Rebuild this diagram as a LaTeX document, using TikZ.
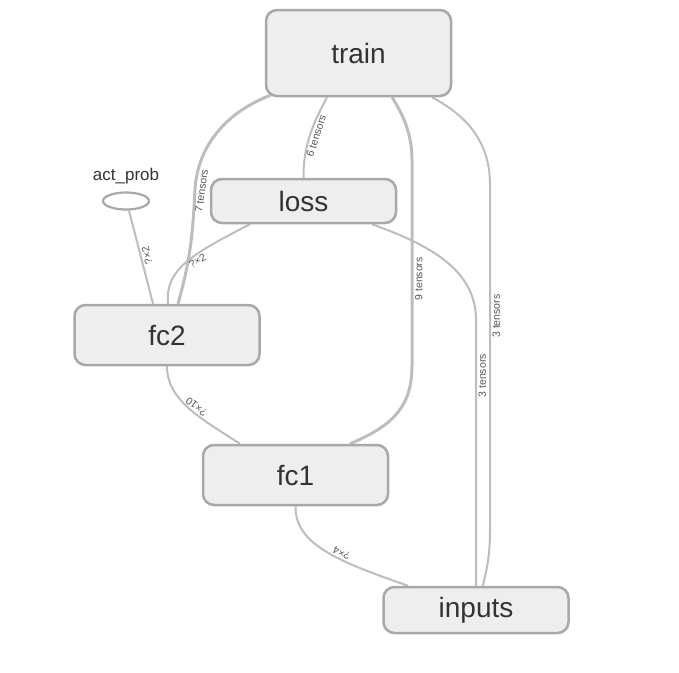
\documentclass[tikz,border=0pt]{standalone}
\usepackage{fontspec}
\setmainfont{Liberation Sans}
\usetikzlibrary{shapes.geometric, calc, backgrounds}
\usepackage{xcolor}
\definecolor{Ink}{HTML}{333333}
\definecolor{Dim}{HTML}{555555}
\definecolor{Frame}{HTML}{A8A8A8}
\definecolor{Panel}{HTML}{EEEEEE}
\definecolor{Wire}{HTML}{BDBDBD}

\begin{document}
\begin{tikzpicture}[
            x=1pt, y=-1pt,
            op/.style={
                rectangle,
                draw=Frame,
                fill=Panel,
                line width=2.5pt,
                rounded corners=11pt,
                minimum width=185pt,
                align=center,
                font=\fontsize{28}{30}\selectfont,
                text=Ink
            },
            outnode/.style={
                ellipse,
                draw=Frame,
                fill=white,
                line width=2.2pt,
                minimum width=46pt,
                minimum height=17pt,
                inner sep=0pt
            },
            link/.style={line width=2pt, color=Wire},
            heavylink/.style={line width=3pt, color=Wire},
            note/.style={font=\fontsize{10.5}{12}\selectfont, text=Dim, anchor=north, inner sep=1.5pt}
        ]
            \useasboundingbox (0,0) rectangle (679,672);

            \node[op, minimum height=86pt] (train) at (358.5,53) {train};
            \node[op, minimum height=44pt] (loss) at (303.5,201) {loss};
            \node[op, minimum height=60pt] (fc2) at (167,335) {fc2};
            \node[op, minimum height=60pt] (fc1) at (295.5,475) {fc1};
            \node[op, minimum height=46pt] (inputs) at (476,610) {inputs};
            \node[outnode] (actprob) at (126,201) {};
            \node[font=\fontsize{17}{20}\selectfont, text=Ink] (actlabel) at (126,176) {act\_prob};

            \begin{scope}[on background layer]
            % Into train
            \draw[link] (loss.north) .. controls (303,140) and (318,115) .. node[pos=0.45, note, rotate=72]{6 tensors} ($(train.south)+(-31.5,0)$);
            \draw[heavylink] ($(fc2.north)+(11,0)$) .. controls (192,255) and (193,225) .. (195,190) node[note, rotate=82]{7 tensors} .. controls (197,150) and (222,114) .. ($(train.south)+(-88,-2)$);
            \draw[heavylink] ($(fc1.north)+(54.5,0)$) .. controls (395,425) and (412,405) .. (412,365) -- node[pos=0.42, note, rotate=90]{9 tensors} (412,160) .. controls (412,130) and (400,110) .. ($(train.south)+(33.5,0)$);
            \draw[link] ($(inputs.north)+(7,0)$) .. controls (486,570) and (490,560) .. (490,530) -- node[pos=0.62, note, rotate=90]{3 tensors} (490,185) .. controls (490,140) and (465,115) .. ($(train.south)+(73.5,0)$);

            % Into loss and act_prob
            \draw[link] (inputs.north) -- node[pos=0.79, note, rotate=90]{3 tensors} (476,320) .. controls (476,270) and (430,245) .. ($(loss.south)+(68.5,0)$);
            \draw[link] ($(fc2.north)+(1,0)$) .. controls (165,270) and (190,255) .. node[pos=0.6, note, rotate=30]{?×2} ($(loss.south)+(-53.5,0)$);
            \draw[link] ($(fc2.north)+(-14,0)$) -- node[pos=0.5, note, rotate=104]{?×2} ($(actprob.south)+(3,0)$);

            % Layer chain
            \draw[link] (fc2.south) .. controls (167,400) and (200,418) .. node[pos=0.55, note, rotate=142]{?×10} ($(fc1.north)+(-55.5,0)$);
            \draw[link] (fc1.south) .. controls (295,545) and (340,562) .. node[pos=0.6, note, rotate=155]{?×4} ($(inputs.north)+(-68,0)$);
            \end{scope}
        \end{tikzpicture}
\end{document}
